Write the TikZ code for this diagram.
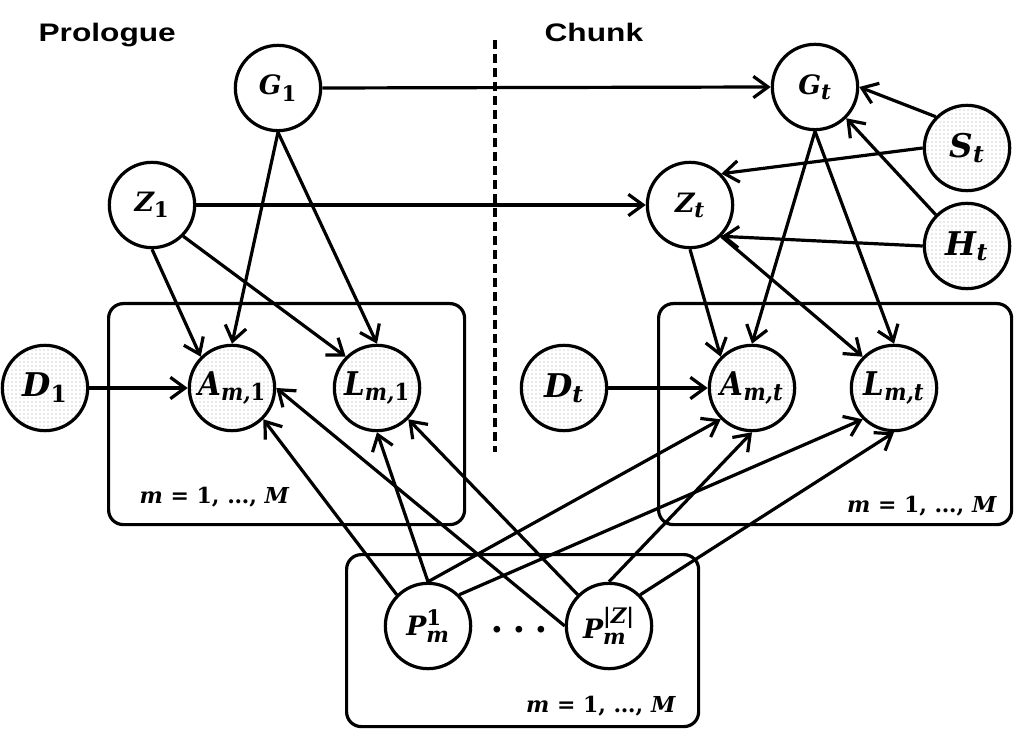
\documentclass[tikz,border=0pt]{standalone}
\usepackage{amsmath}
\usepackage[no-math]{fontspec}
\newfontfamily\titlefont{Liberation Sans}
\newfontfamily\nf{DejaVu Serif}
\DeclareMathSizes{20}{20}{16}{12}
\DeclareMathSizes{24.5}{24.5}{17.5}{14}
\usetikzlibrary{arrows.meta,patterns.meta}
\newcommand{\sq}[1]{\scalebox{0.9}[1]{#1}}
\newcommand{\vt}[1]{\text{\nf\bfseries\itshape #1}}
\newcommand{\vu}[1]{\text{\nf\bfseries #1}}
\newcommand{\mrange}{{\nf\bfseries\itshape m}{\nf\bfseries\ =\ 1,\ …,\ }{\nf\bfseries\itshape M}}
\begin{document}
\begin{tikzpicture}[x=0.75pt,y=-0.75pt,
  line width=2.4pt,
  var/.style={circle,draw,minimum size=64pt,inner sep=0pt,font=\fontsize{20}{24}\selectfont},
  obs/.style={var,font=\fontsize{24.5}{28}\selectfont,pattern={Dots[radius=0.35pt,distance=3pt]}},
  plate/.style={draw,rounded corners=11pt},
  edge/.style={-{Straight Barb[length=11pt,width=16pt]}},
  lbl/.style={font=\fontsize{16.5}{19}\selectfont,inner sep=0pt},
  ttl/.style={font=\fontsize{19}{22}\selectfont\titlefont\bfseries,inner sep=0pt}
]
\useasboundingbox (0,0) rectangle (1019,730);
% titles
\node[ttl,anchor=base west] (tp) at (37,42) {\scalebox{1.25}[1]{Prologue}};
\node[ttl,anchor=base west] (tc) at (543,42) {\scalebox{1.25}[1]{Chunk}};
% dashed separator
\coordinate (s1) at (495,40);
\coordinate (s2) at (495,452);
\draw[dash pattern=on 7pt off 3.5pt] (s1) -- (s2);
% plates
\node[plate,minimum width=267pt,minimum height=165.75pt,anchor=north west] (pl1) at (107,302) {};
\node[plate,minimum width=264.75pt,minimum height=165.75pt,anchor=north west] (pl2) at (657,302) {};
\node[plate,minimum width=264pt,minimum height=129pt,anchor=north west] (pl3) at (345,553) {};
\node[lbl,anchor=base west] (m1) at (138,503) {\mrange};
\node[lbl,anchor=base east] (m2) at (998,512) {\mrange};
\node[lbl,anchor=base east] (m3) at (677,712) {\mrange};
% nodes
\node[var] (G1) at (278,88) {$\vt{G}_{\vu{1}}$};
\node[var] (Z1) at (152,205) {$\vt{Z}_{\vu{1}}$};
\node[var] (Gt) at (815,87) {$\vt{G}_{\vt{t}}$};
\node[var] (Zt) at (690,205) {$\vt{Z}_{\vt{t}}$};
\node[obs] (St) at (967,148) {$\vt{S}_{\vt{t}}$};
\node[obs] (Ht) at (967,246) {$\vt{H}_{\vt{t}}$};
\node[obs] (D1) at (45,388) {$\vt{D}_{\vu{1}}$};
\node[obs] (A1) at (232,388) {\sq{$\vt{A}_{\vt{m,}\vu{1}}$}};
\node[obs] (L1) at (377,388) {\sq{$\vt{L}_{\vt{m,}\vu{1}}$}};
\node[obs] (Dt) at (564,388) {$\vt{D}_{\vt{t}}$};
\node[obs] (At) at (752,388) {\sq{$\vt{A}_{\vt{m,t}}$}};
\node[obs] (Lt) at (894,388) {\sq{$\vt{L}_{\vt{m,t}}$}};
\node[var] (P1) at (428,626) {$\vt{P}_{\vt{m}}^{\vu{1}}$};
\node[var] (PZ) at (609,626) {$\vt{P}_{\vt{m}}^{\vu{|}\vt{Z}\vu{|}}$};
\node[font=\fontsize{24.88}{28}\selectfont\boldmath,inner sep=0pt] (dots) at (524,630) {\scalebox{1.3}{$\cdots$}};
% edges
\draw[edge] (G1.east) -- (Gt.west);
\draw[edge] (Z1.east) -- (Zt.west);
\draw[edge] (G1.south) -- (A1.north);
\draw[edge] (G1.south) -- (L1.north);
\draw[edge] (Z1.south) -- (A1.north west);
\draw[edge] (Z1.south east) -- (L1.north west);
\draw[edge] (D1.east) -- (A1.west);
\draw[edge] (Gt.south) -- (At.north);
\draw[edge] (Gt.south) -- (Lt.north);
\draw[edge] (Zt.south) -- (At.north west);
\draw[edge] (Zt.south east) -- (Lt.north west);
\draw[edge] (St.north west) -- (Gt.east);
\draw[edge] (St.west) -- (Zt.north east);
\draw[edge] (Ht.north west) -- (Gt.south east);
\draw[edge] (Ht.west) -- (Zt.south east);
\draw[edge] (Dt.east) -- (At.west);
\draw[edge] (P1.north west) -- (A1.south east);
\draw[edge] (P1.north) -- (L1.south);
\draw[edge] (P1.north) -- (At.south west);
\draw[edge] (P1.north east) -- (Lt.south west);
\draw[edge] (PZ.west) -- (A1.east);
\draw[edge] (PZ.north west) -- (L1.south east);
\draw[edge] (PZ.north) -- (At.south);
\draw[edge] (PZ.north east) -- (Lt.south);
\end{tikzpicture}
\end{document}
